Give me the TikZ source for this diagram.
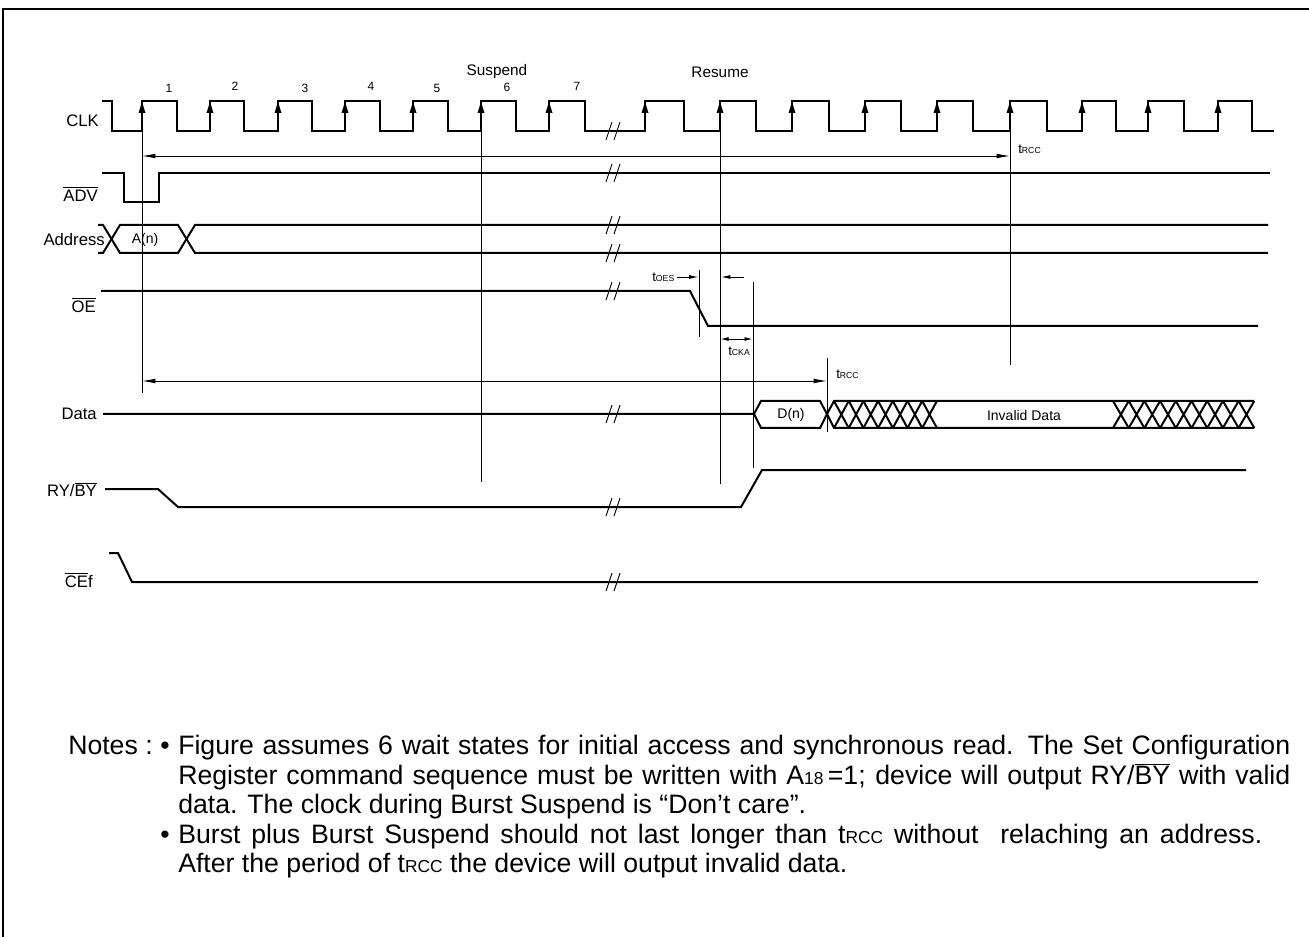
\documentclass[tikz,border=0pt]{standalone}
\usepackage{fontspec}
\setmainfont{Liberation Sans}
\usetikzlibrary{arrows.meta}
\newcommand{\ovl}[1]{\ensuremath{\overline{\mbox{#1}}}}
\newcommand{\sm}[1]{{\fontsize{6.5}{7}\selectfont #1}}
\newcommand{\smn}[1]{{\fontsize{13}{14}\selectfont #1}}
\begin{document}
\begin{tikzpicture}[x=0.75pt,y=-0.75pt,
 sig/.style={line width=1.5pt, line join=miter},
 clk/.style={line width=1.7pt},
 thin/.style={line width=0.7pt},
 meas/.style={line width=0.7pt,{Latex[length=10pt,width=3.6pt]}-{Latex[length=10pt,width=3.6pt]}},
 rmeas/.style={line width=0.7pt,-{Latex[length=7pt,width=3pt]}},
 dmeas/.style={line width=0.7pt,{Latex[length=6pt,width=3pt]}-{Latex[length=6pt,width=3pt]}},
 lab/.style={font=\fontsize{12.5}{14}\selectfont, inner sep=0pt},
 num/.style={font=\fontsize{9}{10}\selectfont, inner sep=0pt},
 big/.style={font=\fontsize{11.5}{13}\selectfont, inner sep=0pt},
 bus/.style={font=\fontsize{10.5}{12}\selectfont, inner sep=0pt},
 tl/.style={font=\fontsize{10}{11}\selectfont, inner sep=0pt, anchor=west},
 note/.style={font=\fontsize{20}{22}\selectfont, inner sep=0pt, anchor=base west},
 brk/.pic={\draw[thin] (-7,9) -- (-1,-9) (1,9) -- (7,-9);},
 edgeup/.pic={\fill (0,0) -- (-3.5,11) -- (3.5,11) -- cycle;}
]
\useasboundingbox (0,0) rectangle (1309,937);
% frame
\draw[line width=1.6pt] (3,937) -- (3,9) -- (1309,9);

% signal labels
\node[lab, anchor=east] (lclk) at (99,121) {CLK};
\node[lab, anchor=east] (ladv) at (98,194) {\ovl{ADV}};
\node[lab, anchor=east] (laddr) at (105,240) {Address};
\node[lab, anchor=east] (loe) at (96,305) {\ovl{OE}};
\node[lab, anchor=east] (ldata) at (97,414) {Data};
\node[lab, anchor=east] (lry) at (97,490) {RY/\ovl{BY}};
\node[lab, anchor=east] (lce) at (93,580) {\ovl{CE}f};

% clock numbers and phase labels
\node[num] (c1) at (169,88) {1};
\node[num] (c2) at (235,86) {2};
\node[num] (c3) at (305,88) {3};
\node[num] (c4) at (371,86) {4};
\node[num] (c5) at (437,88) {5};
\node[num] (c6) at (507,87) {6};
\node[num] (c7) at (577,86) {7};
\node[big] (susp) at (497,72) {Suspend};
\node[big] (resu) at (720,72) {Resume};

% CLK
\draw[clk] (102,101) -- (112,101) -- (112,131) -- (142,131) -- (142,101) -- (177,101) -- (177,131)
 -- (210,131) -- (210,101) -- (244,101) -- (244,131) -- (278,131) -- (278,101) -- (312,101) -- (312,131)
 -- (345,131) -- (345,101) -- (380,101) -- (380,131) -- (413,131) -- (413,101) -- (448,101) -- (448,131)
 -- (481,131) -- (481,101) -- (516,101) -- (516,131) -- (549,131) -- (549,101) -- (585,101) -- (585,131)
 -- (645,131) -- (645,101) -- (684,101) -- (684,131) -- (720,131) -- (720,101) -- (756,101) -- (756,131)
 -- (792,131) -- (792,101) -- (829,101) -- (829,131) -- (865,131) -- (865,101) -- (901,101) -- (901,131)
 -- (937,131) -- (937,101) -- (973,101) -- (973,131) -- (1010,131) -- (1010,101) -- (1047,101) -- (1047,131)
 -- (1082,131) -- (1082,101) -- (1116,101) -- (1116,131) -- (1148,131) -- (1148,101) -- (1184,101) -- (1184,131)
 -- (1218,131) -- (1218,101) -- (1252,101) -- (1252,131) -- (1274,131);
\foreach \x in {142,210,278,345,413,481,549,645,720,792,865,937,1010,1082,1148,1218}
  \pic at (\x,102) {edgeup};

% ADV
\draw[sig] (102,173) -- (124,173) -- (124,202) -- (159,202) -- (159,173) -- (1270,173);
% Address bus
\draw[sig] (98,225) -- (103,225) -- (120,253) -- (178,253) -- (195,225) -- (1268,225);
\draw[sig] (98,253) -- (103,253) -- (120,225) -- (178,225) -- (195,253) -- (1268,253);
\node[bus] (an) at (145,240) {A(n)};
% OE
\draw[sig] (101,291) -- (690,291) -- (708,326) -- (1258,326);
% Data
\draw[sig] (103,414) -- (754,414) -- (761,401) -- (820,401) -- (827,414) -- (834,401) -- (1254,401);
\draw[sig] (754,414) -- (761,428) -- (820,428) -- (827,414) -- (834,428) -- (1254,428);
\foreach \i in {0,...,6}
  \draw[sig] ({834+14.7*\i},401) -- ({834+14.7*(\i+1)},428) ({834+14.7*\i},428) -- ({834+14.7*(\i+1)},401);
\foreach \i in {0,...,8}
  \draw[sig] ({1113+15.7*\i},401) -- ({1113+15.7*(\i+1)},428) ({1113+15.7*\i},428) -- ({1113+15.7*(\i+1)},401);
\node[bus] (dn) at (791,415) {D(n)};
\node[bus] (inv) at (1024,415) {Invalid Data};
% RY/BY
\draw[sig] (105,489) -- (158,489) -- (178,507) -- (741,507) -- (762,470) -- (1246,470);
% CEf
\draw[sig] (109,553) -- (118,553) -- (132,582) -- (1258,582);

% breaks
\foreach \y in {131,173,225,253,291,414,507,582}
  \pic at (613,\y) {brk};

% vertical reference lines
\coordinate (v1t) at (142,131); \coordinate (v1b) at (142,393);
\coordinate (v2t) at (481,131); \coordinate (v2b) at (481,482);
\coordinate (v3t) at (720,131); \coordinate (v3b) at (720,484);
\coordinate (v4t) at (1010,131); \coordinate (v4b) at (1010,365);
\coordinate (v5t) at (699,270); \coordinate (v5b) at (699,337);
\coordinate (v6t) at (753,282); \coordinate (v6b) at (753,468);
\coordinate (v7t) at (827,358); \coordinate (v7b) at (827,432);
\foreach \n in {1,...,7} \draw[thin] (v\n t) -- (v\n b);

% timing arrows
\coordinate (ua) at (142,156); \coordinate (ub) at (1010,156);
\draw[meas] (ua) -- (ub);
\node[tl] (trcc1) at (1018,149) {t\sm{RCC}};
\coordinate (la) at (142,381); \coordinate (lb) at (827,381);
\draw[meas] (la) -- (lb);
\node[tl] (trcc2) at (836,374) {t\sm{RCC}};
\node[tl] (toes) at (652,277) {t\sm{OES}};
\coordinate (oa) at (677,277); \coordinate (ob) at (698.5,277);
\draw[rmeas] (oa) -- (ob);
\coordinate (ra) at (744,277); \coordinate (rb) at (721,277);
\draw[rmeas] (ra) -- (rb);
\coordinate (ka) at (720.5,339); \coordinate (kb) at (752.5,339);
\draw[dmeas] (ka) -- (kb);
\node[tl] (tcka) at (728,351) {t\sm{CKA}};

% notes
\node[note, anchor=base east] (n0) at (153,754) {Notes :};
\node[note] (b1) at (160,754) {\textbullet};
\node[note] (l1) at (178,754) {\makebox[834pt][s]{Figure assumes 6 wait states for initial access and synchronous read. The Set Configuration}};
\node[note] (l2) at (178,784) {\makebox[834pt][s]{Register command sequence must be written with A\smn{18}\,=1; device will output RY/\ovl{BY} with valid}};
\node[note] (l3) at (178,813) {data. The clock during Burst Suspend is “Don’t care”.};
\node[note] (b2) at (160,843) {\textbullet};
\node[note] (l4) at (178,843) {\makebox[813pt][s]{Burst plus Burst Suspend should not last longer than t\smn{RCC} without \ relaching an address.}};
\node[note] (l5) at (178,872) {After the period of t\smn{RCC} the device will output invalid data.};
\end{tikzpicture}
\end{document}
